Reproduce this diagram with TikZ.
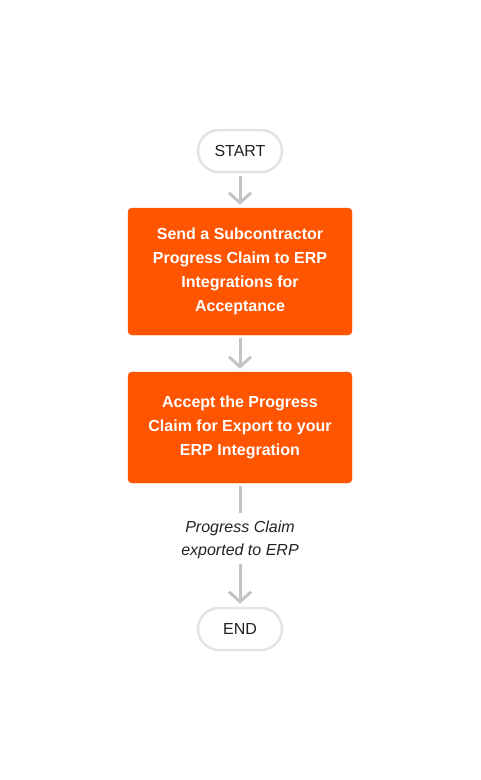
\documentclass[tikz,border=0pt]{standalone}
\usepackage{fontspec}
\setmainfont{Liberation Sans}
\usetikzlibrary{arrows.meta}
\definecolor{claimorange}{HTML}{FF5500}
\definecolor{pillgray}{HTML}{E3E3E3}
\definecolor{arrgray}{HTML}{C4C4C4}
\definecolor{txtgray}{HTML}{222222}

\begin{document}
\begin{tikzpicture}[
x = 1pt, y = -1pt,
termrect/.style={rectangle, align = center, 
draw = pillgray, fill = white, line width = 2.5, text = txtgray,
minimum width = 84pt, minimum height = 42pt, rounded corners = 21pt, font = \fontsize{16}{20}\selectfont},
steprect/.style={rectangle, align = center, 
draw = claimorange, fill = claimorange, text = white, 
minimum width = 224pt, rounded corners = 4pt, font = \bfseries\fontsize{16}{24}\selectfont},
notetext/.style={align = center, text = txtgray, inner sep = 2pt, font = \itshape\fontsize{16}{23}\selectfont},
flowarr/.style={-{Straight Barb[length = 10pt, width = 22pt, line width = 3pt]}, line width = 3, draw = arrgray, shorten <= 3pt, shorten >= 3pt},
flowline/.style={line width = 3, draw = arrgray, shorten <= 3pt, shorten >= 5pt}]

\useasboundingbox (0,0) rectangle (480,780);

\node[termrect] (start) at (240,151) {START};
\node[steprect, minimum height = 127pt] (send) at (240,271.5) {Send a Subcontractor\\Progress Claim to ERP\\Integrations for\\Acceptance};
\node[steprect, minimum height = 111pt] (accept) at (240,427.5) {Accept the Progress\\Claim for Export to your\\ERP Integration};
\node[notetext] (exported) at (240,539.5) {Progress Claim\\exported to ERP};
\node[termrect] (end) at (240,629) {END};

\draw[flowarr] (start) -- (send);
\draw[flowarr] (send) -- (accept);
\draw[flowline] (accept) -- (exported);
\draw[flowarr] (exported) -- (end);

\end{tikzpicture}
\end{document}
